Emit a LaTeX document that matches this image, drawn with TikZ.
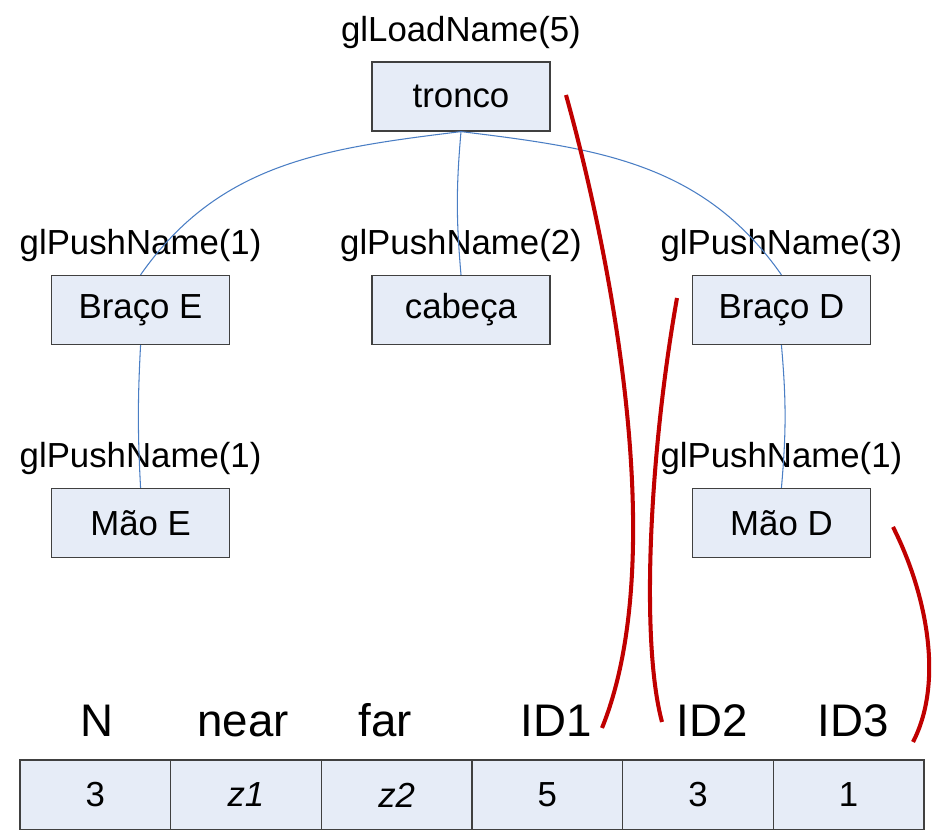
\documentclass[tikz,border=0pt]{standalone}
\usepackage{fontspec}
\setmainfont{Liberation Sans}
\usetikzlibrary{positioning}
\definecolor{boxfill}{HTML}{E6ECF7}
\definecolor{edgeblue}{HTML}{4A7EC4}
\definecolor{pickred}{HTML}{C00000}

\tikzset{
  body/.style={draw=black!75, line width=0.7pt, fill=boxfill,
    minimum width=3.56cm, minimum height=1.38cm, font=\fontsize{19.8}{24}\selectfont},
  cell/.style={draw=black!75, line width=0.7pt, fill=boxfill, outer sep=0pt,
    minimum width=3.014cm, minimum height=1.4cm, font=\fontsize{19.8}{24}\selectfont},
  head/.style={anchor=base, font=\fontsize{26}{30}\selectfont},
  bendy/.style={edge from parent path={(\tikzparentnode\tikzparentanchor) to[#1] (\tikzchildnode\tikzchildanchor)}},
  pick/.style={draw=pickred, line width=2.3pt},
}

\begin{document}
\begin{tikzpicture}[x=0.02cm, y=0.02cm, node distance=0pt,
    every child node/.style=body,
    level 1/.style={level distance=4.27cm, sibling distance=6.41cm},
    level 2/.style={level distance=4.26cm},
    edge from parent/.style={draw=edgeblue, line width=0.6pt},
    parent anchor=south, child anchor=north,
    label distance=0.13cm,
    every label/.style={font=\fontsize{19.8}{24}\selectfont}]

  \useasboundingbox (0,0) rectangle (934,-830);

  % name stack tree
  \node[body, label=above:glLoadName(5)] (tronco) at (461,-96.5) {tronco}
    child[bendy={out=187,in=55}] { node[label=above:glPushName(1)] (bracoE) {Braço E}
      child[bendy={bend right=3}] { node[label=above:glPushName(1)] (maoE) {Mão E}}
    }
    child[bendy={bend right=5}] { node[label=above:glPushName(2)] (cabeca) {cabeça}}
    child[bendy={out=-7,in=125}] { node[label=above:glPushName(3)] (bracoD) {Braço D}
      child[bendy={bend left=5}] { node[label=above:glPushName(1)] (maoD) {Mão D}}
    };

  % hit record
  \node[cell] (n) at (95.3,-795) {3};
  \node[cell, right=of n] (near) {\textit{z1}};
  \node[cell, right=of near] (far) {\textit{z2}};
  \node[cell, right=of far] (id1) {5};
  \node[cell, right=of id1] (id2) {3};
  \node[cell, right=of id2] (id3) {1};

  \node[head] (hn) at (97,-737) {N};
  \node[head] (hnear) at (243,-737) {near};
  \node[head] (hfar) at (385,-737) {far};
  \node[head] (hid1) at (556,-737) {ID1};
  \node[head] (hid2) at (712,-737) {ID2};
  \node[head] (hid3) at (853,-737) {ID3};

  % red links
  \coordinate (a1) at (566,-95);
  \coordinate (b1) at (602,-728);
  \coordinate (a2) at (677,-298);
  \coordinate (b2) at (662,-722);
  \coordinate (a3) at (893,-527);
  \coordinate (b3) at (913,-742);
  \draw[pick] (a1) .. controls (612,-260) and (670,-560) .. (b1);
  \draw[pick] (a2) .. controls (650,-450) and (640,-640) .. (b2);
  \draw[pick] (a3) .. controls (925,-590) and (945,-680) .. (b3);
\end{tikzpicture}
\end{document}
